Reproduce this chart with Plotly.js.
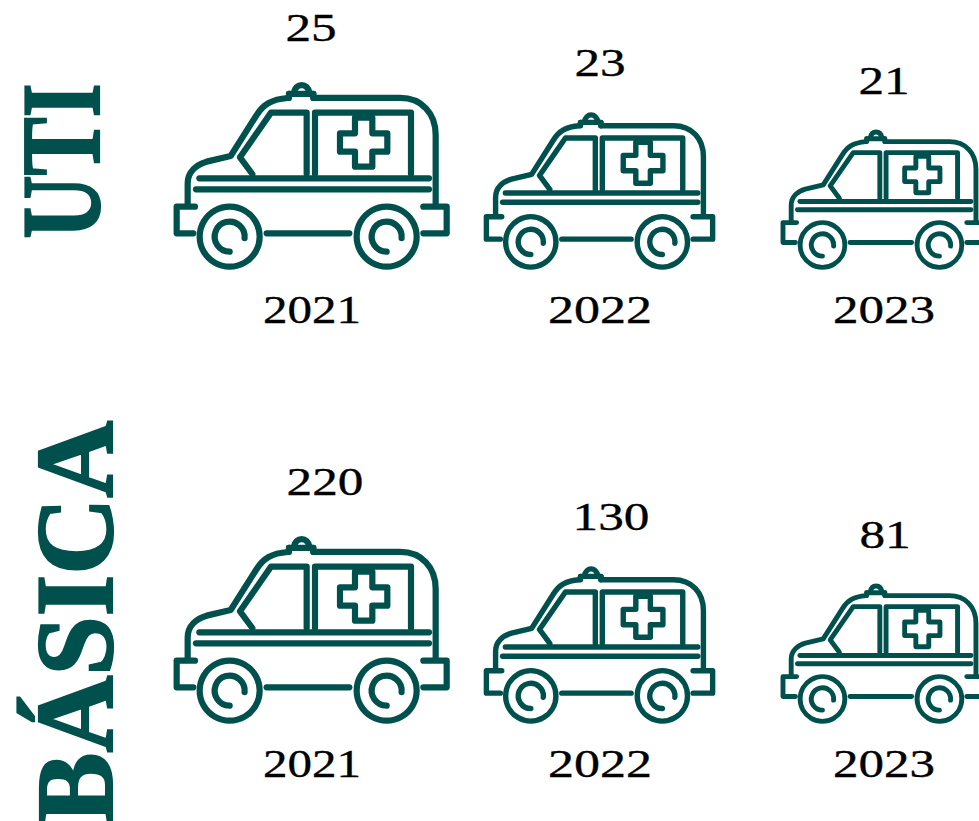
<!DOCTYPE html>
<html>
<head>
<meta charset="utf-8">
<script src="https://cdn.plot.ly/plotly-3.0.1.min.js"></script>
<style>
html,body{margin:0;padding:0;background:#fff;overflow:hidden}
#chart{width:979px;height:821px}
.shapelayer path{stroke-linecap:round;stroke-linejoin:round}
</style>
</head>
<body>
<div id="chart"></div>
<script>
// ---- data ----
var years = ["2021", "2022", "2023"];
var utiValues = [25, 23, 21];
var basicaValues = [220, 130, 81];
var rowNames = ["UTI", "BÁSICA"];

// ---- layout settings ----
var teal = "#00514d";
var iconScale = [1, 0.838, 0.745];
var iconStroke = [6.2, 5.4, 4.9];
var iconLeft = [165, 476.6, 774.3];
var rowBottom = [269.3, 723.3];
var yearX = [312, 600, 884];
var yearY = [309, 763];
var yearLen = [98, 104, 102];
var valueX = [[311, 600, 884], [325, 611, 885]];
var valueY = [[27, 62, 80], [481, 516, 534]];

// ---- ambulance pictogram (template units) ----
function arc(cx, cy, r, a0, a1) {
  var n = Math.ceil(Math.abs(a1 - a0) / 60), out = [], d = (a1 - a0) / n * Math.PI / 180;
  var k = 4 / 3 * Math.tan(d / 4), a = a0 * Math.PI / 180;
  out.push(["M", cx + r * Math.cos(a), cy + r * Math.sin(a)]);
  for (var i = 0; i < n; i++) {
    var b = a + d;
    out.push(["C",
      cx + r * (Math.cos(a) - k * Math.sin(a)), cy + r * (Math.sin(a) + k * Math.cos(a)),
      cx + r * (Math.cos(b) + k * Math.sin(b)), cy + r * (Math.sin(b) - k * Math.cos(b)),
      cx + r * Math.cos(b), cy + r * Math.sin(b)]);
    a = b;
  }
  return out;
}
var iconParts = [
  [["M",68,405],["L",68,340],["C",68,305,95,283,125,275],["L",197,258],["L",275,135],["C",295,103,320,88,368,84]],
  [["M",372,72],["L",445,72]],
  [["M",372,72],["L",372,84]],
  [["M",445,72],["L",445,84]],
  [["M",386,70],["C",392,37,428,37,434,70]],
  [["M",445,84],["L",705,84],["C",770,84,812,130,812,195],["L",812,405]],
  [["M",262,312],["L",225,262],["L",318,128],["L",425,128],["L",425,312]],
  [["M",450,312],["L",450,128],["L",738,128],["L",738,312]],
  [["M",570,143],["L",622,143],["L",622,190],["L",667,190],["L",667,245],["L",622,245],["L",622,290],["L",570,290],["L",570,245],["L",525,245],["L",525,190],["L",570,190],["Z"]],
  [["M",103,325],["L",792,325]],
  [["M",93,358],["L",792,358]],
  [["M",90,410],["L",35,410],["L",35,490],["L",85,490]],
  [["M",775,410],["L",845,410],["L",845,490],["L",775,490]],
  [["M",305,490],["L",553,490]],
  arc(194,500,90,0,360), arc(665,500,90,0,360),
  arc(194,500,45,6,-270), arc(665,500,45,6,-270)
];
function iconPath(part, left, bottom, s) {
  return part.map(function (seg) {
    var t = seg[0];
    for (var i = 1; i < seg.length; i += 2) {
      t += " " + (left + s * seg[i] / 3).toFixed(2) + "," + (bottom + s * (seg[i + 1] - 598) / 3).toFixed(2);
    }
    return t;
  }).join(" ");
}

var shapes = [], annotations = [];
var rows = [utiValues, basicaValues];
rows.forEach(function (vals, r) {
  vals.forEach(function (v, c) {
    var s = iconScale[c];
    iconParts.forEach(function (part) {
      shapes.push({type: "path", xref: "x", yref: "y", layer: "above",
        path: iconPath(part, iconLeft[c], rowBottom[r], s),
        line: {color: teal, width: iconStroke[c]}, fillcolor: "rgba(0,0,0,0)"});
    });
    annotations.push({x: valueX[r][c], y: valueY[r][c], text: String(v), showarrow: false,
      xanchor: "center", yanchor: "middle",
      font: {family: "Liberation Serif", size: 40, color: "#000"}});
    annotations.push({x: yearX[c], y: yearY[r], text: years[c], showarrow: false,
      xanchor: "center", yanchor: "middle",
      font: {family: "Liberation Serif", size: 40, color: "#000"}});
  });
});
var rowTitleX = [60, 75], rowTitleY = [161.5, 622], rowTitleSize = [112, 110], rowTitleLen = [155, 403];
rowNames.forEach(function (n, r) {
  annotations.push({x: rowTitleX[r], y: rowTitleY[r], text: "<b>" + n + "</b>", textangle: -90,
    showarrow: false, xanchor: "center", yanchor: "middle",
    font: {family: "Liberation Serif", size: rowTitleSize[r], color: teal}});
});

var hiddenAxis = {visible: false, showgrid: false, zeroline: false, fixedrange: true};
Plotly.newPlot("chart", [], {
  width: 979, height: 821,
  margin: {l: 0, r: 0, t: 0, b: 0},
  paper_bgcolor: "#fff", plot_bgcolor: "#fff",
  showlegend: false,
  xaxis: Object.assign({range: [0, 979]}, hiddenAxis),
  yaxis: Object.assign({range: [821, 0]}, hiddenAxis),
  shapes: shapes, annotations: annotations
}, {displayModeBar: false, staticPlot: true}).then(function () {
  // the reference's lettering is stretched horizontally and a little heavier
  document.querySelectorAll("#chart .annotation-text").forEach(function (t) {
    var txt = t.textContent, len, i = rowNames.indexOf(txt), y = years.indexOf(txt);
    if (i >= 0) { len = rowTitleLen[i]; t.style.stroke = teal; t.style.strokeWidth = "2.2px"; }
    else {
      len = y >= 0 ? yearLen[y] : t.getComputedTextLength() * 1.28;
      t.style.stroke = "#000"; t.style.strokeWidth = "0.35px";
    }
    t.setAttribute("textLength", len);
    t.setAttribute("lengthAdjust", "spacingAndGlyphs");
  });
});
</script>
</body>
</html>
